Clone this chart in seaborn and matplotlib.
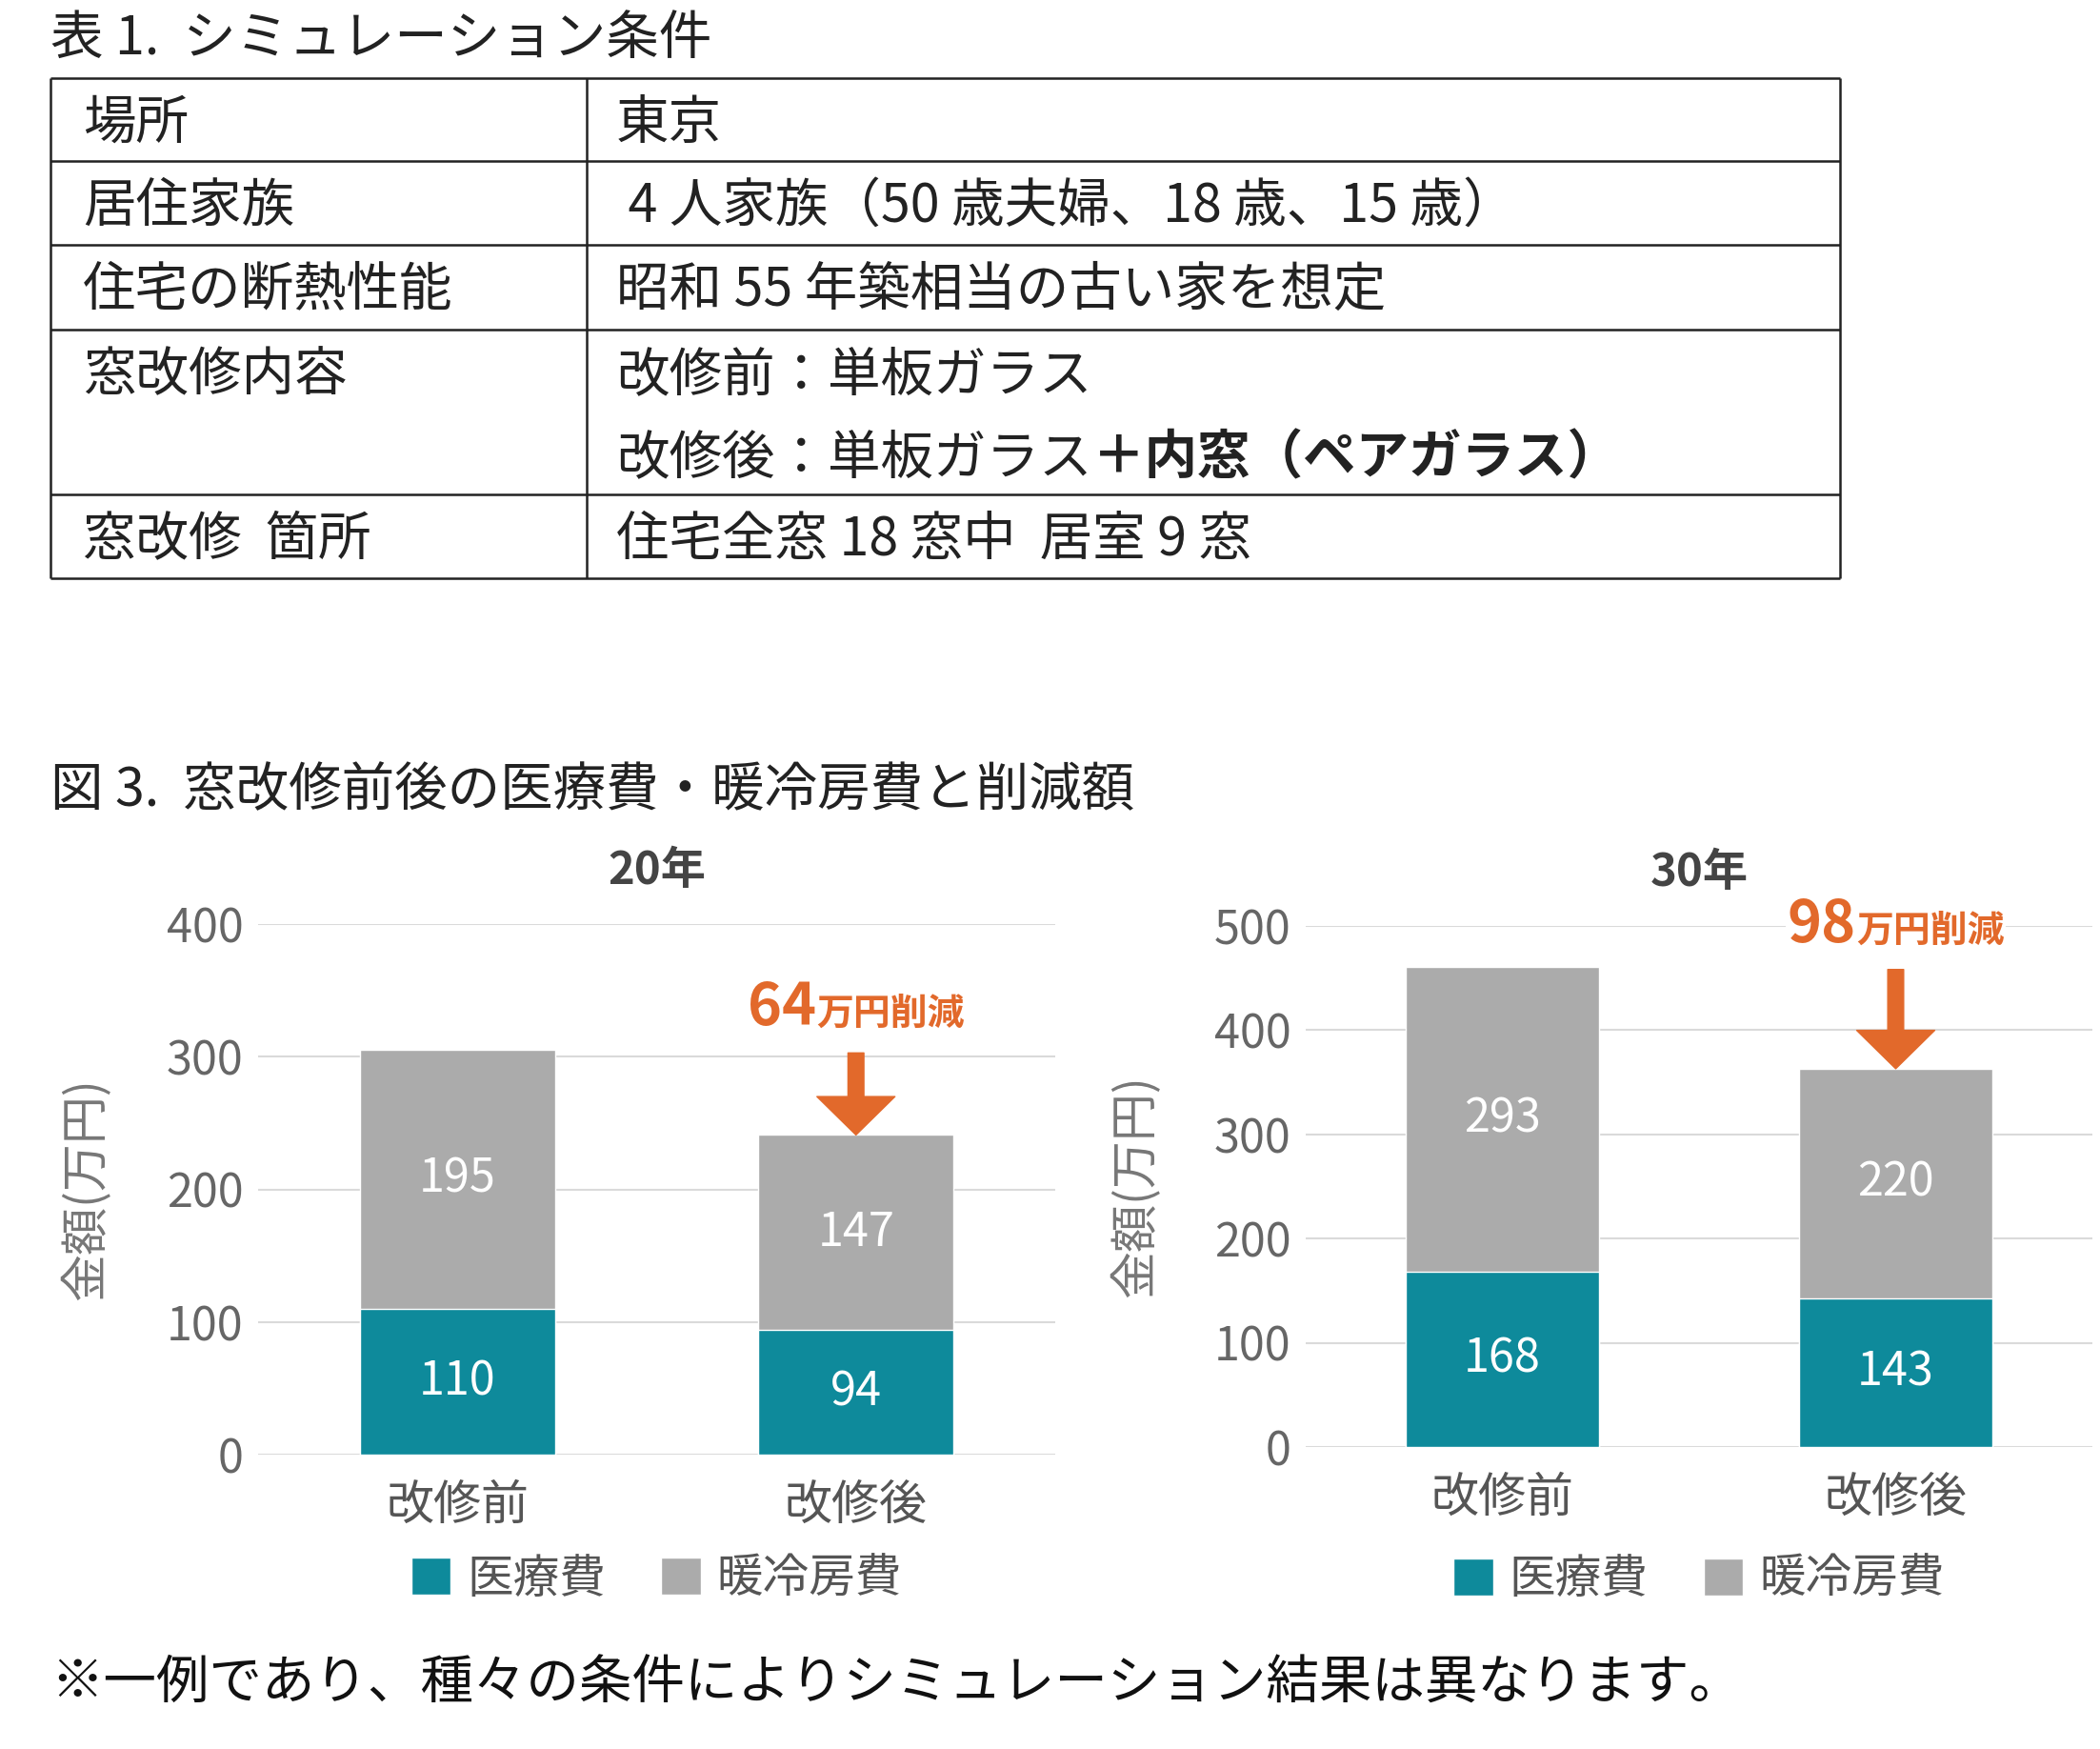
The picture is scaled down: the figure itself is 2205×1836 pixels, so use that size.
import matplotlib
matplotlib.use("Agg")
import matplotlib.pyplot as plt
from matplotlib.patches import Patch
import seaborn as sns
import pandas as pd

sns.set_theme(style="white")
plt.rcParams['font.family'] = ['Noto Sans CJK JP', 'DejaVu Sans']

# table 1 contents
table_title = "表 1.  シミュレーション条件"
table_keys = ["場所", "居住家族", "住宅の断熱性能", "窓改修内容", "窓改修  箇所"]
table_vals = [["東京"],
              [" 4 人家族（50 歳夫婦、18 歳、15 歳）"],
              ["昭和 55 年築相当の古い家を想定"],
              ["改修前：単板ガラス", "改修後：単板ガラス"],
              ["住宅全窓 18 窓中  居室 9 窓"]]
bold_tail = {(3, 1): "＋内窓（ペアガラス）"}

# figure 3 data
fig3_title = "図 3.  窓改修前後の医療費・暖冷房費と削減額"
categories = ["改修前", "改修後"]
periods = ["20年", "30年"]
medical = {"20年": [110, 94], "30年": [168, 143]}
heating = {"20年": [195, 147], "30年": [293, 220]}
y_max = {"20年": 400, "30年": 500}
legend_labels = ["医療費", "暖冷房費"]
note = "※一例であり、種々の条件によりシミュレーション結果は異なります。"

TEAL = "#0E8A9B"
GRAY = "#ABABAB"
ORANGE = "#E2692B"

W, H = 2205, 1836
fig = plt.figure(figsize=(W / 100, H / 100), dpi=100)

# ---- table drawn in pixel space of the whole figure
tab = fig.add_axes([0, 0, 1, 1])
tab.set_xlim(0, W)
tab.set_ylim(H, 0)
tab.axis("off")
col_x = [53, 616, 1932]
row_y = [82, 169, 257, 346, 519, 607]
tab.hlines(row_y, col_x[0], col_x[-1], color="#222222", lw=1.8)
tab.vlines(col_x, row_y[0], row_y[-1], color="#222222", lw=1.8)
tab.text(53, 42, table_title, fontsize=40, va="center", ha="left", color="#222222")
for i, key in enumerate(table_keys):
    top = row_y[i]
    tab.text(87, top + 48, key, fontsize=40, va="center", color="#222222")
    for k, line in enumerate(table_vals[i]):
        t = tab.text(647, top + 48 + 87 * k, line, fontsize=40, va="center", color="#222222")
        if (i, k) in bold_tail:
            tab.annotate(bold_tail[(i, k)], xy=(1, 0.5), xycoords=t, va="center",
                         ha="left", fontsize=40, fontweight="bold", color="#222222")

tab.text(53, 830, fig3_title, fontsize=40, va="center", ha="left", color="#222222")
tab.text(53, 1768, note, fontsize=40, va="center", ha="left", color="#111111")

# ---- bar charts
boxes = {"20年": (271, 1108, 970, 1527), "30年": (1371, 2197, 972, 1519)}
arrow_len = {"20年": 62, "30年": 75}
legend_y = {"20年": -0.235, "30年": -0.255}

for p in periods:
    x0, x1, y0, y1 = boxes[p]
    ax = fig.add_axes([x0 / W, 1 - y1 / H, (x1 - x0) / W, (y1 - y0) / H])
    med = medical[p]
    heat = heating[p]
    totals = [m + h for m, h in zip(med, heat)]
    df = pd.DataFrame({"cat": categories, "total": totals, "med": med})
    sns.barplot(data=df, x="cat", y="total", color=GRAY, saturation=1,
                width=0.49, ax=ax, zorder=2)
    sns.barplot(data=df, x="cat", y="med", color=TEAL, saturation=1,
                width=0.49, ax=ax, zorder=3)
    ax.set_xlim(-0.5, 1.5)
    ax.set_ylim(0, y_max[p])
    ax.set_yticks(range(0, y_max[p] + 1, 100))
    ax.set_axisbelow(True)
    ax.yaxis.grid(True, color="#DADADA", lw=1.5)
    sns.despine(ax=ax, left=True, bottom=True)
    ax.tick_params(axis="y", length=0, pad=11, labelsize=35, labelcolor="#666666")
    ax.tick_params(axis="x", length=0, pad=20, labelsize=36, labelcolor="#555555")
    ax.set_xlabel("")
    ax.set_ylabel("金額(万円)", fontsize=36, color="#777777", va="center")
    ax.yaxis.set_label_coords(-0.215, 0.5)
    ax.set_title(p, fontsize=34, fontweight="bold", color="#444444", pad=30)

    for i in range(len(categories)):
        ax.text(i, med[i] / 2, str(med[i]), ha="center", va="center",
                color="white", fontsize=35, zorder=4)
        ax.text(i, med[i] + heat[i] / 2, str(heat[i]), ha="center", va="center",
                color="white", fontsize=35, zorder=4)

    # saving arrow over the after-renovation bar
    saving = totals[0] - totals[1]
    L = arrow_len[p]
    ax.annotate("", xy=(1, totals[1]), xytext=(0, L), textcoords="offset points",
                arrowprops=dict(arrowstyle="simple,head_length=2.9,head_width=5.9,tail_width=1.2",
                                color=ORANGE, mutation_scale=10, shrinkA=0, shrinkB=0),
                zorder=5)
    box = dict(facecolor="white", edgecolor="none", pad=1)
    ax.annotate(str(saving), xy=(1, totals[1]), xytext=(-30, L + 21),
                textcoords="offset points", ha="right", va="baseline",
                fontsize=44, fontweight="bold", color=ORANGE, bbox=box, zorder=5)
    ax.annotate("万円削減", xy=(1, totals[1]), xytext=(-30, L + 21),
                textcoords="offset points", ha="left", va="baseline",
                fontsize=28, fontweight="bold", color=ORANGE, bbox=box, zorder=5)

    handles = [Patch(facecolor=TEAL), Patch(facecolor=GRAY)]
    ax.legend(handles, legend_labels, loc="center", bbox_to_anchor=(0.5, legend_y[p]),
              ncol=2, frameon=False, fontsize=35, handlelength=0.85,
              handleheight=0.85, handletextpad=0.35, columnspacing=1.2,
              labelcolor="#555555")

fig.savefig("out.png", dpi=100, facecolor="white")
